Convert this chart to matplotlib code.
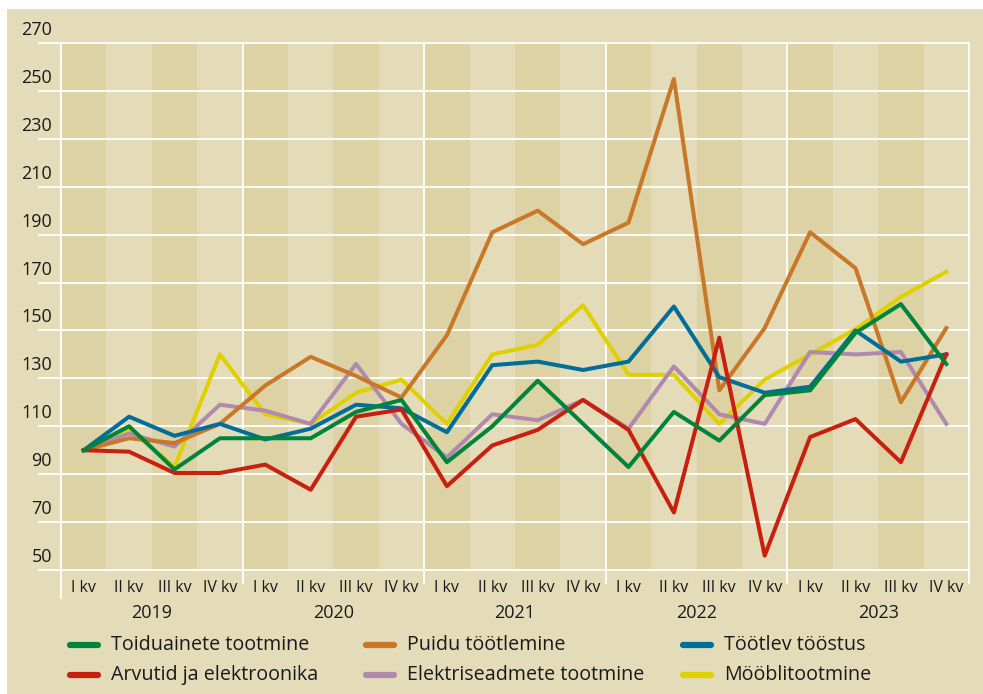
import matplotlib
matplotlib.use("Agg")
import matplotlib.pyplot as plt
import matplotlib.transforms as mtransforms
from matplotlib.lines import Line2D
from matplotlib.patches import Rectangle

plt.rcParams['font.family'] = ['Open Sans', 'DejaVu Sans']

# ------------------------------------------
# DATA (index, 2019 I kv = 100)
# ------------------------------------------
years = ["2019", "2020", "2021", "2022", "2023"]
quarters = ["I kv", "II kv", "III kv", "IV kv"]

toiduained = [100, 110, 92, 105, 105, 105, 116, 121, 95, 110, 129, 111, 93, 116, 104, 123, 125, 149, 161, 136]
puit = [100, 105, 103, 111, 127, 139, 131, 122, 148, 191, 200, 186, 195, 255, 125, 151, 191, 176, 120, 151]
tootlev = [100, 114, 106, 111, 104.5, 109, 119, 117.5, 107.5, 135.5, 137, 133.5, 137, 160, 130.5, 124, 126.5, 150, 137, 140]
arvutid = [100, 99.4, 90.5, 90.5, 94, 83.5, 114, 117, 85, 102, 108.5, 121, 108.5, 74, 147, 56, 105.5, 113, 95, 140]
elektri = [100, 107, 101.5, 119, 116.5, 111, 136, 111, 97, 115, 112.5, 121, 109, 135, 115, 111, 141, 140, 141, 111]
moobel = [100, 109, 93, 140, 115, 111, 124, 129.5, 111, 140, 144, 160.5, 131.5, 131.5, 111, 129.5, 140, 150.5, 164, 174.5]

series = [
    ("Toiduainete tootmine", toiduained, "#00843c"),
    ("Puidu töötlemine", puit, "#c87828"),
    ("Töötlev tööstus", tootlev, "#006e98"),
    ("Arvutid ja elektroonika", arvutid, "#c8200f"),
    ("Elektriseadmete tootmine", elektri, "#b08aad"),
    ("Mööblitootmine", moobel, "#e0d000"),
]
draw_order = [5, 4, 1, 2, 3, 0]

BG = "#e4dcb9"
STRIPE = "#ddd2a4"
TXT = "#1a1a1a"

W, H = 983, 694
fig = plt.figure(figsize=(W / 100, H / 100), dpi=100, facecolor="white")
fig.add_artist(Rectangle((7 / W, 0), 1 - 7 / W, 1 - 9 / H, transform=fig.transFigure,
                         facecolor=BG, edgecolor="none", zorder=-10))

ax = fig.add_axes([61 / W, 1 - 570 / H, 908 / W, 527 / H])
ax.set_facecolor(BG)
for s in ax.spines.values():
    s.set_visible(False)

n = len(toiduained)
x = list(range(n))
ax.set_xlim(-0.5, n - 0.5)
ax.set_ylim(50, 270)

# stripes for I and III quarter
for i in range(0, n, 2):
    ax.axvspan(i - 0.5, i + 0.5, color=STRIPE, lw=0, zorder=0)

# horizontal grid, reaching out to the left
yt = list(range(50, 271, 20))
for v in yt:
    ax.axhline(v, xmin=-22 / 908, xmax=1, color="white", lw=1.3, clip_on=False, zorder=1)

# year separators
for k in range(len(years) + 1):
    xb = k * 4 - 0.5
    ymin = -28 / 527 if k == 0 else -13 / 527
    ax.axvline(xb, ymin=ymin, ymax=1, color="white", lw=1.3, clip_on=False, zorder=1)

# y labels sit above their gridlines
ytrans = mtransforms.offset_copy(ax.get_yaxis_transform(), fig=fig, x=0, y=8, units="dots")
ax.set_yticks([])
for v in yt:
    ax.text(-9 / 908, v, str(v), transform=ytrans, ha="right", va="baseline",
            fontsize=13, color=TXT)

# x labels
ax.set_xticks(x)
ax.set_xticklabels(quarters * len(years), fontsize=11.5, color=TXT)
ax.tick_params(axis="x", length=0, pad=7)
for k, yr in enumerate(years):
    ax.text(k * 4 + 1.5, -43 / 527, yr, transform=ax.get_xaxis_transform(),
            ha="center", va="center", fontsize=13, color=TXT)

for idx in draw_order:
    name, vals, col = series[idx]
    ax.plot(x, vals, color=col, lw=2.9, zorder=3)

# legend
col_x = [70, 366, 683]
row_y = [645, 675]
for i, (name, vals, col) in enumerate(series):
    r, c = divmod(i, 3)
    x0 = col_x[c]
    yy = 1 - row_y[r] / H
    fig.add_artist(Line2D([x0 / W, (x0 + 28) / W], [yy, yy], color=col, lw=4.5,
                          solid_capstyle="round", transform=fig.transFigure))
    fig.text((x0 + 41) / W, yy, name, ha="left", va="center", fontsize=14.2, color=TXT)

plt.savefig("out.png", dpi=100, facecolor="white")
